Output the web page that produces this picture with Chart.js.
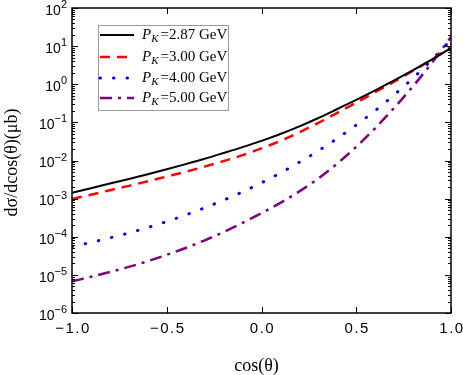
<!DOCTYPE html>
<html>
<head>
<meta charset="utf-8">
<script src="https://cdn.jsdelivr.net/npm/chart.js@4/dist/chart.umd.min.js"></script>
<style>
  html, body { margin: 0; padding: 0; background: #fff; }
  canvas { display: block; }
</style>
</head>
<body>
<canvas id="chart" width="463" height="375"></canvas>
<script>
// cos(theta) sample points
const cosTheta = [-1.0, -0.9, -0.8, -0.7, -0.6, -0.5, -0.4, -0.3, -0.2, -0.1, 0.0,
                  0.1, 0.2, 0.3, 0.4, 0.5, 0.6, 0.7, 0.8, 0.9, 1.0];

// dsigma/dcos(theta) in microbarn
const pk287 = [1.43e-3, 1.88e-3, 2.48e-3, 3.27e-3, 4.37e-3, 5.89e-3, 8.04e-3, 1.11e-2, 1.57e-2, 2.24e-2, 3.27e-2,
               4.95e-2, 7.85e-2, 0.130, 0.224, 0.389, 0.692, 1.26, 2.34, 4.47, 8.91];
const pk300 = [9.77e-4, 1.27e-3, 1.66e-3, 2.16e-3, 2.85e-3, 3.80e-3, 5.07e-3, 6.92e-3, 9.66e-3, 1.38e-2, 2.07e-2,
               3.27e-2, 5.50e-2, 9.66e-2, 0.178, 0.327, 0.617, 1.17, 2.26, 4.47, 9.55];
const pk400 = [5.50e-5, 7.08e-5, 9.33e-5, 1.26e-4, 1.74e-4, 2.51e-4, 3.72e-4, 5.75e-4, 9.12e-4, 1.50e-3, 2.60e-3,
               4.73e-3, 9.02e-3, 1.80e-2, 3.80e-2, 8.51e-2, 0.204, 0.525, 1.46, 4.42, 14.8];
const pk500 = [6.76e-6, 8.91e-6, 1.19e-5, 1.62e-5, 2.29e-5, 3.35e-5, 5.07e-5, 8.04e-5, 1.33e-4, 2.32e-4, 4.17e-4,
               7.76e-4, 1.55e-3, 3.39e-3, 8.32e-3, 2.29e-2, 7.08e-2, 0.240, 0.891, 3.72, 17.4];

const momenta = ['2.87', '3.00', '4.00', '5.00'];
const xTicks = [-1.0, -0.5, 0.0, 0.5, 1.0];
const yExponents = [-6, -5, -4, -3, -2, -1, 0, 1, 2];

const toPoints = (vals) => cosTheta.map((c, i) => ({ x: c, y: vals[i] }));

const styles = [
    { color: '#000000', width: 2,   dash: [],             cap: 'butt' },
    { color: '#ff0000', width: 2.5, dash: [10, 7],        cap: 'butt' },
    { color: '#0000ff', width: 3,   dash: [0.5, 13],      cap: 'round' },
    { color: '#800080', width: 2.5, dash: [12, 6, 3, 6],  cap: 'butt' }
];

const datasets = [pk287, pk300, pk400, pk500].map((vals, i) => ({
    label: momenta[i],
    data: toPoints(vals),
    borderColor: styles[i].color,
    borderWidth: styles[i].width,
    borderDash: styles[i].dash,
    borderCapStyle: styles[i].cap,
    pointRadius: 0,
    fill: false,
    cubicInterpolationMode: 'monotone'
}));

// frame, inward ticks, labels, titles and legend
const decorations = {
    id: 'decorations',
    beforeDraw(chart) {
        const ctx = chart.ctx;
        ctx.save();
        ctx.fillStyle = '#fff';
        ctx.fillRect(0, 0, chart.width, chart.height);
        ctx.restore();
    },
    afterDraw(chart) {
        const { ctx, chartArea: a, scales: { x, y } } = chart;
        ctx.save();
        ctx.strokeStyle = '#000';
        ctx.fillStyle = '#000';

        // frame
        ctx.lineWidth = 1.5;
        ctx.strokeRect(a.left, a.top, a.right - a.left, a.bottom - a.top);

        // y ticks (major + minor) on left and right
        ctx.lineWidth = 1;
        yExponents.forEach((e, idx) => {
            for (let m = 1; m <= 9; m++) {
                if (idx === yExponents.length - 1 && m > 1) break;
                const py = Math.round(y.getPixelForValue(m * Math.pow(10, e))) + 0.5;
                const len = m === 1 ? 6 : 3;
                ctx.beginPath();
                ctx.moveTo(a.left, py); ctx.lineTo(a.left + len, py);
                ctx.moveTo(a.right, py); ctx.lineTo(a.right - len, py);
                ctx.stroke();
            }
        });

        // x ticks on bottom and top
        xTicks.forEach(v => {
            const px = Math.round(x.getPixelForValue(v)) + 0.5;
            ctx.beginPath();
            ctx.moveTo(px, a.bottom); ctx.lineTo(px, a.bottom - 6);
            ctx.moveTo(px, a.top); ctx.lineTo(px, a.top + 6);
            ctx.stroke();
        });

        // y tick labels 10^n
        ctx.textBaseline = 'middle';
        ctx.textAlign = 'left';
        yExponents.forEach(e => {
            const py = y.getPixelForValue(Math.pow(10, e));
            const exp = e < 0 ? '\u2212' + (-e) : String(e);
            ctx.font = '11px "Liberation Sans"';
            const ew = ctx.measureText(exp).width;
            ctx.font = '14px "Liberation Sans"';
            const bw = ctx.measureText('10').width;
            const right = a.left - 5;
            ctx.fillText('10', right - ew - bw, py + 3);
            ctx.font = '11px "Liberation Sans"';
            ctx.fillText(exp, right - ew, py - 3);
        });

        // x tick labels
        ctx.font = '15px "Liberation Sans"';
        ctx.textAlign = 'center';
        ctx.letterSpacing = '1.5px';
        xTicks.forEach(v => {
            const px = x.getPixelForValue(v);
            ctx.fillText(v.toFixed(1).replace('-', '\u2212'), px + 1, a.bottom + 16);
        });
        ctx.letterSpacing = '0px';

        // axis titles
        ctx.font = '18px "Liberation Serif"';
        ctx.fillText('cos(\u03b8)', (a.left + a.right) / 2 - 5, a.bottom + 53);
        ctx.save();
        ctx.translate(12, (a.top + a.bottom) / 2 + 2);
        ctx.rotate(-Math.PI / 2);
        ctx.fillText('d\u03c3/dcos(\u03b8)(\u03bcb)', 0, 0);
        ctx.restore();

        // legend
        const bx = a.left + 26, by = a.top + 17, bwid = 130, bh = 85;
        ctx.fillStyle = '#fff';
        ctx.fillRect(bx, by, bwid, bh);
        ctx.strokeStyle = '#999';
        ctx.lineWidth = 1;
        ctx.strokeRect(bx + 0.5, by + 0.5, bwid, bh);
        const rows = [10, 32, 53, 73];
        chart.data.datasets.forEach((ds, i) => {
            const ry = by + rows[i];
            ctx.strokeStyle = ds.borderColor;
            ctx.lineWidth = ds.borderWidth;
            ctx.lineCap = ds.borderCapStyle;
            ctx.setLineDash(ds.borderDash);
            ctx.beginPath();
            ctx.moveTo(bx + 2, ry);
            ctx.lineTo(bx + 36, ry);
            ctx.stroke();
            ctx.setLineDash([]);
            ctx.lineCap = 'butt';

            ctx.fillStyle = '#000';
            ctx.textAlign = 'left';
            let tx = bx + 44;
            ctx.font = 'italic 15px "Liberation Serif"';
            ctx.fillText('P', tx, ry);
            tx += ctx.measureText('P').width;
            ctx.font = 'italic 11px "Liberation Serif"';
            ctx.fillText('K', tx, ry + 4);
            tx += ctx.measureText('K').width + 2;
            ctx.font = '15px "Liberation Serif"';
            ctx.fillText('=' + ds.label + ' GeV', tx, ry);
        });

        ctx.restore();
    }
};

new Chart(document.getElementById('chart').getContext('2d'), {
    type: 'line',
    data: { datasets: datasets },
    options: {
        responsive: false,
        animation: false,
        devicePixelRatio: 1,
        layout: { padding: { left: 72, top: 8, right: 12, bottom: 62 } },
        plugins: { legend: { display: false }, tooltip: { enabled: false } },
        scales: {
            x: {
                type: 'linear',
                min: -1,
                max: 1,
                grid: { display: false, drawTicks: false },
                border: { display: false },
                ticks: { display: false }
            },
            y: {
                type: 'logarithmic',
                min: 1e-6,
                max: 1e2,
                grid: { display: false, drawTicks: false },
                border: { display: false },
                ticks: { display: false }
            }
        }
    },
    plugins: [decorations]
});
</script>
</body>
</html>
